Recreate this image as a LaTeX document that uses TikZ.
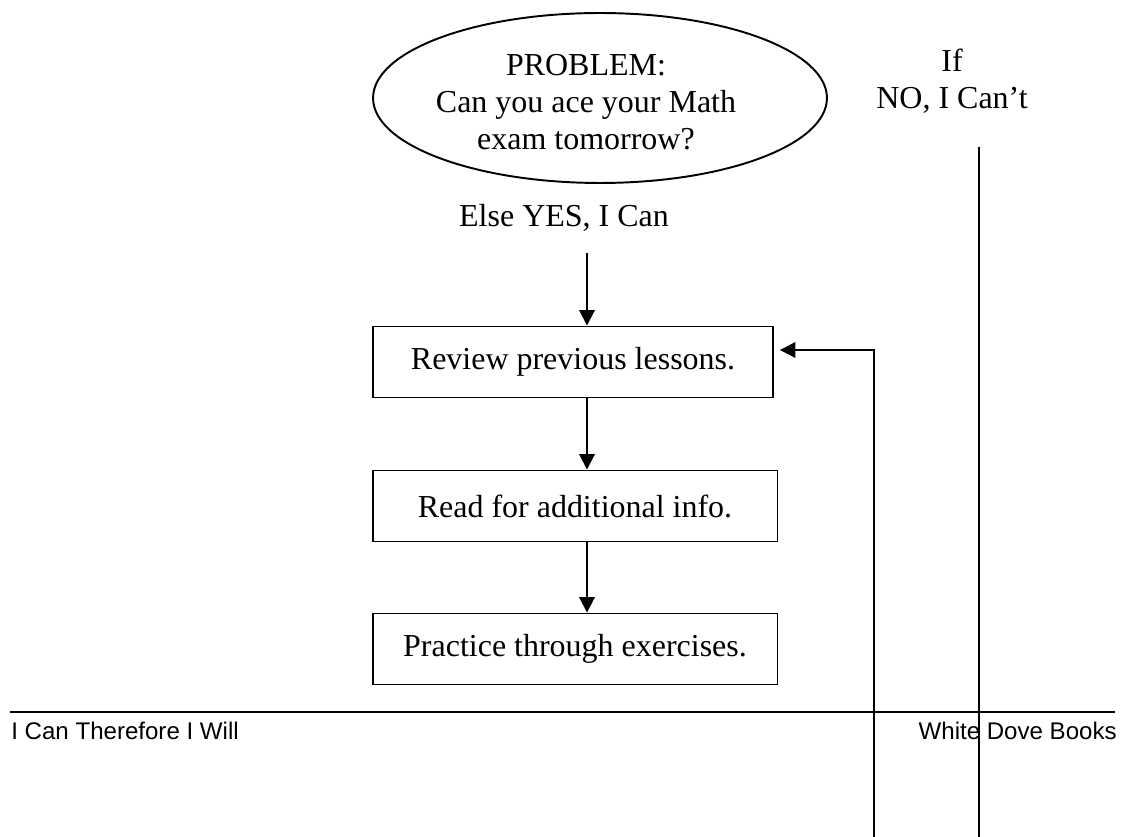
\documentclass[tikz,border=0pt]{standalone}
\usepackage{fontspec}
\setmainfont{Liberation Serif}
\setsansfont{Liberation Sans}
\usetikzlibrary{arrows.meta, positioning, shapes.geometric, calc}

\begin{document}
\begin{tikzpicture}[x=0.02cm, y=-0.02cm,
    every node/.style={font=\fontsize{18.2pt}{21pt}\selectfont},
    stepbox/.style={draw, line width=1.1pt, minimum width=8.1cm, minimum height=1.42cm, inner sep=0pt},
    arr/.style={line width=1.1pt, -{Triangle[length=3.1mm, width=3.1mm]}},
    link/.style={line width=1.1pt},
    footer/.style={font=\sffamily\fontsize{13.7pt}{16pt}\selectfont, inner sep=0pt}]

\useasboundingbox (0,0) rectangle (1125,837);

% === Problem ===
\node[draw, ellipse, line width=1.1pt, minimum width=9.08cm, minimum height=3.4cm,
      inner sep=0pt] (problem) at (600,98) {};
\node[align=center] (problemtext) at (586,102)
     {PROBLEM:\\Can you ace your Math\\exam tomorrow?};

\node[align=center] (ifno) at (952,81) {If\\NO, I Can't};
\node (yes) at (564,218) {Else YES, I Can};

% === Steps ===
\node[stepbox, minimum width=8cm] (review) at (573,362) {Review previous lessons.};
\node[stepbox] (read) at (575,506) {Read for additional info.};
\node[stepbox] (practice) at (575,649) {Practice through exercises.};

% Arrows down the steps
\coordinate (yesend) at (587,253);
\draw[arr] (yesend) -- (yesend |- review.north);
\draw[arr] (yesend |- review.south) -- (yesend |- read.north);
\draw[arr] (yesend |- read.south) -- (yesend |- practice.north);

% Loop back to the first step
\coordinate (loopin) at (874,837);
\draw[arr, shorten >=3.4pt] (loopin) |- ([yshift=0.24cm]review.east);

% NO branch
\coordinate (notop) at (979,147);
\coordinate (nobot) at (979,837);
\draw[link] (notop) -- (nobot);

% === Footer ===
\coordinate (rulel) at (10,712);
\coordinate (ruler) at (1115,712);
\draw[line width=0.8pt] (rulel) -- (ruler);
\node[footer, anchor=west] (booktitle) at (11,731) {I Can Therefore I Will};
\node[footer, anchor=east] (publisher) at (1117,731) {White Dove Books};

\end{tikzpicture}
\end{document}
